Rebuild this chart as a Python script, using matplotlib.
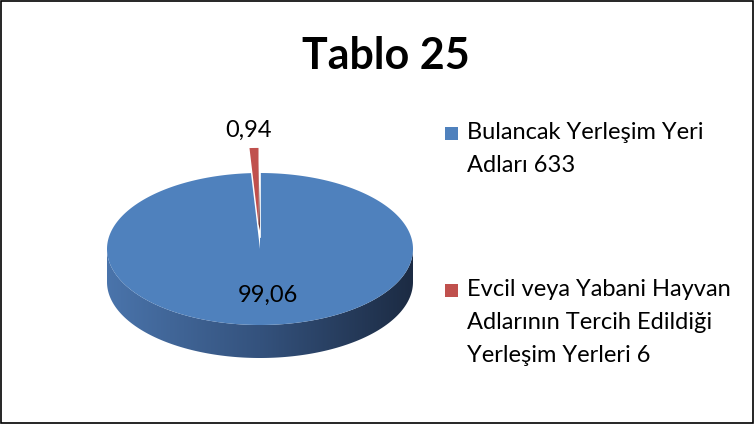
import numpy as np
import matplotlib.pyplot as plt
from matplotlib.patches import Polygon, Rectangle
from matplotlib.colors import LinearSegmentedColormap

plt.rcParams['font.family'] = ['Lato', 'DejaVu Sans']

title = 'Tablo 25'
labels = ['Bulancak Yerleşim Yeri\nAdları 633',
          'Evcil veya Yabani Hayvan\nAdlarının Tercih Edildiği\nYerleşim Yerleri 6']
values = [99.06, 0.94]
value_texts = ['99,06', '0,94']
colors = ['#4f81bd', '#c0504d']

# pie geometry in pixel units (y grows downward)
cx, cy = 260, 249
rx, ry = 153, 76
depth = 33
explode = [0, 0.33]


def rim(theta, ox=0, oy=0, dz=0):
    t = np.radians(theta)
    return np.column_stack([cx + ox + rx * np.cos(t), cy + oy - ry * np.sin(t) + dz])


fig = plt.figure(figsize=(7.55, 4.24), dpi=100)
ax = fig.add_axes([0, 0, 1, 1])
ax.set_xlim(0, 755)
ax.set_ylim(424, 0)
ax.axis('off')

# angles: start at 12 o'clock, clockwise
total = sum(values)
start = 90
wedges = []
for v in values:
    sweep = v / total * 360
    wedges.append((start - sweep, start))
    start -= sweep

# blue slice (big one): side then top
a0, a1 = wedges[0]
side_t = np.linspace(180, 360, 200)
top_edge = rim(side_t)
bot_edge = rim(side_t[::-1], dz=depth)
side = Polygon(np.vstack([top_edge, bot_edge]), closed=True, facecolor='none', edgecolor='none')
ax.add_patch(side)
grad = np.linspace(0, 1, 256).reshape(1, -1)
cmap = LinearSegmentedColormap.from_list('side', ['#4a74ab', '#34527d', '#1c2b43'])
im = ax.imshow(grad, cmap=cmap, extent=[cx - rx, cx + rx, cy + ry + depth, cy - 10],
               aspect='auto', zorder=1)
im.set_clip_path(side)

t = np.linspace(a0, a1, 400)
blue_top = np.vstack([[cx, cy], rim(t)])
ax.add_patch(Polygon(blue_top, closed=True, facecolor=colors[0], edgecolor='none', zorder=2))
ax.plot([cx, cx], [cy - ry, cy - 12], color='white', lw=1.2, zorder=3)

# red slice (exploded)
b0, b1 = wedges[1]
mid = np.radians((b0 + b1) / 2)
ox = explode[1] * rx * np.cos(mid)
oy = -explode[1] * ry * np.sin(mid)
c_red = np.array([cx + ox, cy + oy])
r_in = rim([b0], ox, oy)[0]
face = np.array([c_red, r_in, r_in + [0, depth * 0.4], c_red + [1.5, depth * 0.2]])
ax.add_patch(Polygon(face, closed=True, facecolor='#5a1c1a', edgecolor='none', zorder=4))
t = np.linspace(b0, b1, 50)
red_top = np.vstack([c_red, rim(t, ox, oy)])
ax.add_patch(Polygon(red_top, closed=True, facecolor=colors[1], edgecolor='none', zorder=5))

# value labels
ax.text(cx + 8, 295, value_texts[0], ha='center', va='center', fontsize=17, zorder=6)
ax.text(249, 130, value_texts[1], ha='center', va='center', fontsize=17, zorder=6)

# title
ax.text(386, 56, title, ha='center', va='center', fontsize=31, fontweight='bold')

# legend
leg_y = [133, 290]
for lab, col, y in zip(labels, colors, leg_y):
    ax.add_patch(Rectangle((445, y - 6), 13, 13, facecolor=col, edgecolor='none'))
    ax.text(467, y - 11, lab, ha='left', va='top', fontsize=17, linespacing=1.7)

# chart border
fig.patches.append(Rectangle((0.001, 0.002), 0.996, 0.996, transform=fig.transFigure,
                             fill=False, edgecolor='#000000', lw=1.2))

fig.savefig('out.png', dpi=100)
